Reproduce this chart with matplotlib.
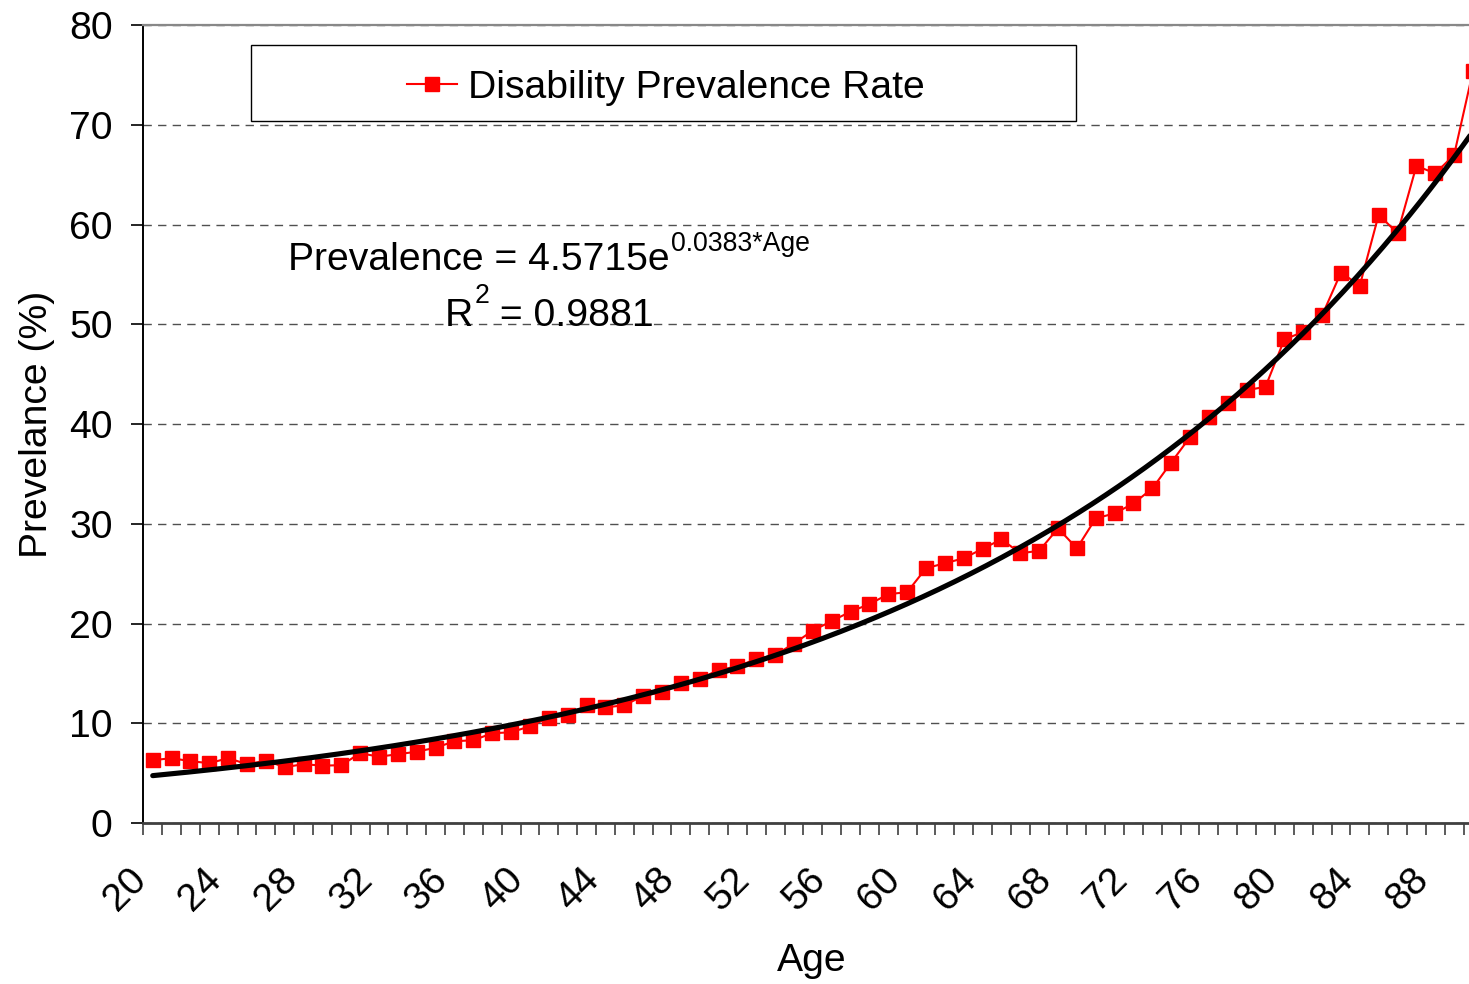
import numpy as np
import matplotlib
matplotlib.use("Agg")
import matplotlib.pyplot as plt
from matplotlib.patches import Rectangle
from matplotlib.transforms import ScaledTranslation

plt.rcParams["font.family"] = ["Liberation Sans", "DejaVu Sans"]

# ---- data -------------------------------------------------------------
ages = list(range(20, 91))
prevalence = [
    6.3, 6.5, 6.2, 6.0, 6.5, 5.9, 6.25, 5.6, 5.9, 5.75,
    5.8, 7.0, 6.65, 6.9, 7.15, 7.55, 8.2, 8.3, 9.0, 9.1,
    9.7, 10.55, 10.8, 11.8, 11.6, 11.8, 12.75, 13.1, 14.0, 14.45,
    15.35, 15.7, 16.45, 16.85, 18.0, 19.3, 20.25, 21.2, 21.95, 22.95,
    23.15, 25.55, 26.05, 26.55, 27.5, 28.45, 27.05, 27.3, 29.55, 27.55,
    30.55, 31.05, 32.05, 33.55, 36.15, 38.7, 40.75, 42.1, 43.4, 43.75,
    48.5, 49.25, 50.9, 55.2, 53.9, 61.0, 59.15, 65.9, 65.15, 67.0,
    75.4,
]
label_ages = ages[::4]               # 20, 24, ..., 88
y_ticks = list(range(0, 81, 10))

trend_coef = 4.5715
trend_rate = 0.0383
r_squared = 0.9881

series_name = "Disability Prevalence Rate"

# ---- figure / axes in pixel units ------------------------------------
W, H = 1469, 984
fig = plt.figure(figsize=(W / 100, H / 100), dpi=100)


def fx(px):
    return px / W


def fy(py):
    return 1 - py / H


ax_left, ax_right, ax_top, ax_bottom = 143.3, 1482.4, 25.3, 823.0
ax = fig.add_axes([fx(ax_left), fy(ax_bottom),
                   (ax_right - ax_left) / W, (ax_bottom - ax_top) / H])

pos = np.arange(len(ages))
ax.set_xlim(-0.5, len(ages) - 0.5)
ax.set_ylim(0, 80)

FS = 28.2
RED = "#FF0000"

# data series
(series_line,) = ax.plot(pos, prevalence, color=RED, lw=1.5, marker="s",
                         ms=10, mec=RED, mfc=RED, zorder=3, clip_on=False)

# exponential trend line (x = 1-based category index)
tx = np.linspace(0, len(ages) - 1, 500)
ty = trend_coef * np.exp(trend_rate * (tx + 1))
ax.plot(tx, ty, color="black", lw=3.7, solid_capstyle="round", zorder=4)

# grid
ax.set_yticks(y_ticks)
ax.yaxis.grid(True, linestyle=(0, (6, 4.5)), color="#505050", lw=1.0)
ax.set_axisbelow(True)

# spines
ax.spines["left"].set_color("black")
ax.spines["left"].set_linewidth(1.4)
ax.spines["bottom"].set_color("#404040")
ax.spines["bottom"].set_linewidth(2.0)
ax.spines["top"].set_color("#888888")
ax.spines["top"].set_linewidth(1.6)
ax.spines["right"].set_visible(False)

# y ticks
ax.tick_params(axis="y", direction="out", length=8.6, width=1.2,
               color="black", labelsize=FS, pad=13.5)

# x ticks: boundaries get marks, every fourth category gets a label
ax.set_xticks(pos[::4])
ax.set_xticklabels([str(a) for a in label_ages])
ax.set_xticks(np.arange(-0.5, len(ages), 1.0), minor=True)
ax.tick_params(axis="x", which="major", length=0, labelsize=FS, pad=37)
ax.tick_params(axis="x", which="minor", direction="out", length=8.6,
               width=1.2, color="#404040")
shift = ScaledTranslation(-12 / 100, 0, fig.dpi_scale_trans)
for lab in ax.get_xticklabels():
    lab.set_rotation(45)
    lab.set_ha("right")
    lab.set_va("center")
    lab.set_rotation_mode("anchor")
    lab.set_transform(lab.get_transform() + shift)

# axis titles
fig.text(fx(812), fy(971), "Age", fontsize=FS, ha="center", va="baseline")
fig.text(fx(47), fy(424), "Prevelance (%)", fontsize=FS, rotation=90,
         rotation_mode="anchor", ha="center", va="baseline")

# legend box and entry
ax.add_patch(Rectangle((fx(251), fy(121)), (1076 - 251) / W,
                       (121 - 45) / H, transform=fig.transFigure,
                       facecolor="white", edgecolor="black", lw=1.0,
                       zorder=5, clip_on=False))
leg = ax.legend([series_line], [series_name], loc="center",
                bbox_to_anchor=(fx(666), fy(87.5)),
                bbox_transform=fig.transFigure, frameon=False, fontsize=FS,
                handlelength=1.27, handletextpad=0.3, borderpad=0)
leg.set_zorder(6)

# trend equation with superscripts
renderer = fig.canvas.get_renderer()
SUP = 19.2


def put(x_px, base_px, s, size):
    t = fig.text(fx(x_px), fy(base_px), s, fontsize=size, ha="left",
                 va="baseline")
    bb = t.get_window_extent(renderer)
    return bb.x1


x_end = put(288, 270, f"Prevalence = {trend_coef}e", FS)
put(x_end + 1, 251, f"{trend_rate}*Age", SUP)

x_end = put(445, 326, "R", FS)
x_end = put(x_end + 1, 303, "2", SUP)
put(x_end, 326, f" = {r_squared}", FS)

fig.savefig("out.png", dpi=100)
